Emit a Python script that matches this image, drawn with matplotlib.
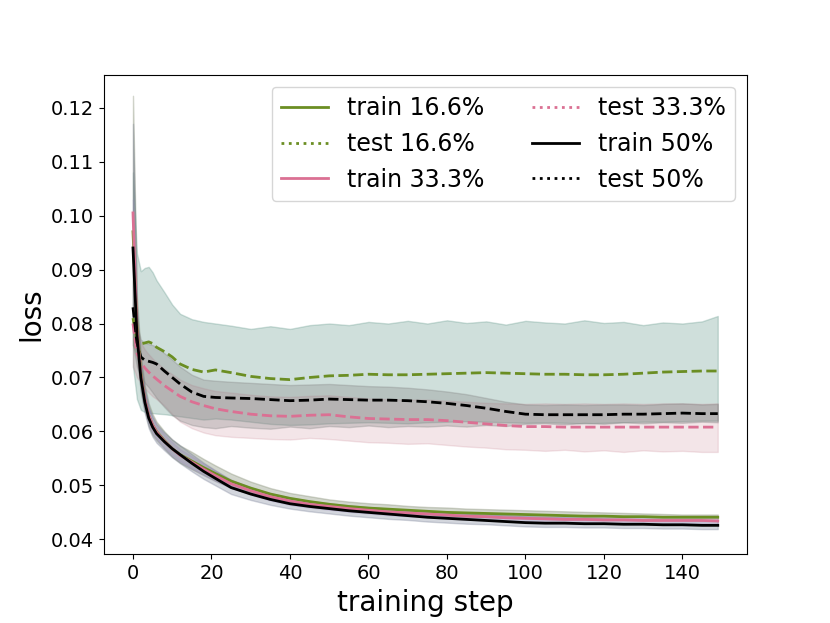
import numpy as np
import matplotlib
matplotlib.use('Agg')
import matplotlib.pyplot as plt
from matplotlib.lines import Line2D

# sampled training steps
steps = [0, 1, 2, 3, 4, 5, 6, 8, 10, 12, 15, 18, 21, 25, 30, 35, 40, 45, 50,
         55, 60, 65, 70, 75, 80, 85, 90, 95, 100, 105, 110, 115, 120, 125,
         130, 135, 140, 145, 149]

# train loss means
train166 = [0.0970, 0.0800, 0.0710, 0.0660, 0.0630, 0.0612, 0.0600, 0.0583, 0.0568, 0.0557,
            0.0545, 0.0533, 0.0522, 0.0508, 0.0495, 0.0484, 0.0476, 0.0470, 0.0465,
            0.0461, 0.0458, 0.0456, 0.0454, 0.0452, 0.0450, 0.0449, 0.0448, 0.0447,
            0.0446, 0.0445, 0.0444, 0.0443, 0.0443, 0.0442, 0.0442, 0.0441, 0.0441,
            0.0441, 0.0441]
train333 = [0.1005, 0.0790, 0.0705, 0.0660, 0.0630, 0.0612, 0.0599, 0.0582, 0.0568, 0.0556,
            0.0543, 0.0530, 0.0518, 0.0503, 0.0490, 0.0479, 0.0471, 0.0465, 0.0461,
            0.0457, 0.0454, 0.0451, 0.0449, 0.0447, 0.0445, 0.0443, 0.0442, 0.0440,
            0.0439, 0.0438, 0.0437, 0.0437, 0.0436, 0.0436, 0.0435, 0.0435, 0.0435,
            0.0435, 0.0434]
train50 = [0.0940, 0.0780, 0.0700, 0.0655, 0.0625, 0.0608, 0.0596, 0.0581, 0.0568, 0.0557,
           0.0541, 0.0526, 0.0513, 0.0496, 0.0484, 0.0474, 0.0466, 0.0461, 0.0457,
           0.0453, 0.0450, 0.0447, 0.0444, 0.0441, 0.0439, 0.0437, 0.0435, 0.0433,
           0.0431, 0.0430, 0.0430, 0.0429, 0.0429, 0.0428, 0.0428, 0.0427, 0.0427,
           0.0426, 0.0426]

# test loss means
test166 = [0.0810, 0.0770, 0.0762, 0.0764, 0.0766, 0.0763, 0.0756, 0.0748, 0.0738, 0.0725,
           0.0715, 0.0710, 0.0714, 0.0709, 0.0702, 0.0698, 0.0696, 0.0700, 0.0703,
           0.0704, 0.0706, 0.0705, 0.0705, 0.0706, 0.0707, 0.0708, 0.0709, 0.0708,
           0.0707, 0.0706, 0.0706, 0.0705, 0.0705, 0.0706, 0.0708, 0.0710, 0.0711,
           0.0712, 0.0712]
test333 = [0.0800, 0.0745, 0.0728, 0.0718, 0.0710, 0.0703, 0.0697, 0.0685, 0.0675, 0.0665,
           0.0655, 0.0648, 0.0642, 0.0637, 0.0632, 0.0629, 0.0628, 0.0630, 0.0631,
           0.0627, 0.0624, 0.0623, 0.0622, 0.0622, 0.0620, 0.0617, 0.0614, 0.0611,
           0.0609, 0.0609, 0.0608, 0.0608, 0.0608, 0.0608, 0.0608, 0.0608, 0.0608,
           0.0608, 0.0608]
test50 = [0.0830, 0.0765, 0.0738, 0.0732, 0.0730, 0.0728, 0.0725, 0.0712, 0.0700, 0.0688,
          0.0673, 0.0665, 0.0663, 0.0662, 0.0661, 0.0659, 0.0657, 0.0658, 0.0660,
          0.0659, 0.0658, 0.0658, 0.0657, 0.0655, 0.0652, 0.0648, 0.0643, 0.0637,
          0.0632, 0.0631, 0.0631, 0.0631, 0.0631, 0.0632, 0.0632, 0.0633, 0.0634,
          0.0633, 0.0633]

# spread bands (upper / lower)
train166_hi = [0.1222, 0.0850, 0.0740, 0.0685, 0.0652, 0.0632, 0.0618, 0.0600, 0.0585, 0.0574,
               0.0562, 0.0549, 0.0537, 0.0522, 0.0507, 0.0495, 0.0486, 0.0480, 0.0474,
               0.0470, 0.0467, 0.0465, 0.0462, 0.0460, 0.0459, 0.0457, 0.0456, 0.0455,
               0.0454, 0.0453, 0.0452, 0.0451, 0.0450, 0.0449, 0.0448, 0.0447, 0.0446,
               0.0446, 0.0446]
train166_lo = [0.0760, 0.0740, 0.0675, 0.0638, 0.0610, 0.0594, 0.0584, 0.0568, 0.0553, 0.0542,
               0.0530, 0.0519, 0.0508, 0.0496, 0.0484, 0.0474, 0.0467, 0.0461, 0.0457,
               0.0453, 0.0450, 0.0448, 0.0447, 0.0445, 0.0443, 0.0442, 0.0441, 0.0440,
               0.0439, 0.0438, 0.0437, 0.0437, 0.0436, 0.0436, 0.0436, 0.0436, 0.0436,
               0.0436, 0.0436]
train333_hi = [0.1030, 0.0820, 0.0725, 0.0676, 0.0644, 0.0625, 0.0611, 0.0594, 0.0580, 0.0567,
               0.0554, 0.0540, 0.0527, 0.0511, 0.0497, 0.0486, 0.0478, 0.0471, 0.0466,
               0.0462, 0.0459, 0.0456, 0.0454, 0.0452, 0.0450, 0.0448, 0.0447, 0.0445,
               0.0444, 0.0443, 0.0442, 0.0442, 0.0441, 0.0441, 0.0440, 0.0440, 0.0440,
               0.0440, 0.0440]
train333_lo = [0.0960, 0.0760, 0.0685, 0.0644, 0.0616, 0.0599, 0.0587, 0.0570, 0.0556, 0.0545,
               0.0532, 0.0520, 0.0509, 0.0495, 0.0483, 0.0472, 0.0464, 0.0459, 0.0455,
               0.0451, 0.0448, 0.0445, 0.0443, 0.0441, 0.0439, 0.0437, 0.0436, 0.0434,
               0.0433, 0.0432, 0.0431, 0.0431, 0.0430, 0.0430, 0.0429, 0.0429, 0.0429,
               0.0428, 0.0428]
train50_hi = [0.1170, 0.0830, 0.0730, 0.0678, 0.0645, 0.0627, 0.0614, 0.0598, 0.0585, 0.0574,
              0.0558, 0.0542, 0.0528, 0.0510, 0.0496, 0.0485, 0.0477, 0.0471, 0.0467,
              0.0463, 0.0460, 0.0457, 0.0454, 0.0452, 0.0450, 0.0448, 0.0446, 0.0445,
              0.0443, 0.0442, 0.0441, 0.0440, 0.0439, 0.0438, 0.0437, 0.0436, 0.0436,
              0.0435, 0.0435]
train50_lo = [0.0800, 0.0740, 0.0672, 0.0634, 0.0606, 0.0590, 0.0579, 0.0565, 0.0552, 0.0541,
              0.0526, 0.0512, 0.0500, 0.0484, 0.0473, 0.0464, 0.0457, 0.0452, 0.0448,
              0.0444, 0.0441, 0.0438, 0.0436, 0.0433, 0.0431, 0.0429, 0.0428, 0.0426,
              0.0424, 0.0423, 0.0423, 0.0422, 0.0422, 0.0421, 0.0421, 0.0420, 0.0420,
              0.0419, 0.0419]
test166_hi = [0.1080, 0.0930, 0.0897, 0.0903, 0.0905, 0.0895, 0.0880, 0.0858, 0.0835, 0.0818,
              0.0808, 0.0803, 0.0800, 0.0796, 0.0790, 0.0795, 0.0790, 0.0797, 0.0800,
              0.0797, 0.0803, 0.0800, 0.0805, 0.0800, 0.0806, 0.0801, 0.0804, 0.0798,
              0.0805, 0.0802, 0.0800, 0.0806, 0.0801, 0.0803, 0.0797, 0.0802, 0.0800,
              0.0804, 0.0814]
test166_lo = [0.0720, 0.0660, 0.0640, 0.0636, 0.0634, 0.0634, 0.0633, 0.0632, 0.0630, 0.0628,
              0.0625, 0.0622, 0.0624, 0.0622, 0.0618, 0.0614, 0.0612, 0.0613, 0.0615,
              0.0616, 0.0617, 0.0616, 0.0615, 0.0617, 0.0618, 0.0619, 0.0618, 0.0617,
              0.0616, 0.0617, 0.0616, 0.0615, 0.0616, 0.0617, 0.0618, 0.0618, 0.0619,
              0.0620, 0.0620]
test333_hi = [0.0880, 0.0790, 0.0765, 0.0752, 0.0743, 0.0735, 0.0728, 0.0716, 0.0706, 0.0696,
              0.0686, 0.0680, 0.0675, 0.0672, 0.0668, 0.0665, 0.0664, 0.0666, 0.0667,
              0.0664, 0.0661, 0.0660, 0.0659, 0.0659, 0.0657, 0.0655, 0.0653, 0.0652,
              0.0651, 0.0652, 0.0651, 0.0652, 0.0651, 0.0652, 0.0651, 0.0652, 0.0652,
              0.0651, 0.0652]
test333_lo = [0.0720, 0.0700, 0.0690, 0.0680, 0.0672, 0.0665, 0.0660, 0.0648, 0.0632, 0.0618,
              0.0606, 0.0598, 0.0593, 0.0590, 0.0588, 0.0586, 0.0585, 0.0588, 0.0586,
              0.0583, 0.0580, 0.0579, 0.0577, 0.0578, 0.0575, 0.0572, 0.0570, 0.0567,
              0.0566, 0.0564, 0.0566, 0.0563, 0.0565, 0.0562, 0.0565, 0.0563, 0.0564,
              0.0562, 0.0562]
test50_hi = [0.0920, 0.0800, 0.0770, 0.0764, 0.0762, 0.0760, 0.0757, 0.0745, 0.0733, 0.0720,
             0.0705, 0.0696, 0.0694, 0.0692, 0.0690, 0.0688, 0.0686, 0.0687, 0.0688,
             0.0686, 0.0684, 0.0683, 0.0681, 0.0678, 0.0674, 0.0669, 0.0662, 0.0655,
             0.0650, 0.0649, 0.0650, 0.0649, 0.0650, 0.0650, 0.0649, 0.0651, 0.0652,
             0.0650, 0.0651]
test50_lo = [0.0760, 0.0720, 0.0700, 0.0690, 0.0682, 0.0672, 0.0662, 0.0645, 0.0630, 0.0620,
             0.0612, 0.0608, 0.0606, 0.0610, 0.0607, 0.0605, 0.0609, 0.0606, 0.0610,
             0.0608, 0.0611, 0.0608, 0.0610, 0.0609, 0.0611, 0.0609, 0.0612, 0.0610,
             0.0614, 0.0615, 0.0613, 0.0616, 0.0614, 0.0617, 0.0615, 0.0617, 0.0616,
             0.0618, 0.0617]

green = '#6b8e23'
pink = '#db7093'

fig = plt.figure(figsize=(8.3, 6.23), dpi=100)
ax = fig.add_subplot(1, 1, 1)

# bands
ax.fill_between(steps, test166_lo, test166_hi, color='#438373', alpha=0.25, lw=1)
ax.fill_between(steps, test333_lo, test333_hi, color='#c07080', alpha=0.18, lw=1)
ax.fill_between(steps, test50_lo, test50_hi, color='grey', alpha=0.3, lw=1)
ax.fill_between(steps, train166_lo, train166_hi, color='#808a70', alpha=0.35, lw=1)
ax.fill_between(steps, train333_lo, train333_hi, color='#b090d8', alpha=0.25, lw=1)
ax.fill_between(steps, train50_lo, train50_hi, color='#707890', alpha=0.3, lw=1)

# mean curves
ax.plot(steps, test166, '--', color=green, lw=2)
ax.plot(steps, test333, '--', color=pink, lw=2)
ax.plot(steps, test50, '--', color='black', lw=2)
ax.plot(steps, train166, '-', color=green, lw=2)
ax.plot(steps, train333, '-', color=pink, lw=2)
ax.plot(steps, train50, '-', color='black', lw=2)

handles = [Line2D([], [], color=green, ls='-', lw=2, label='train 16.6%'),
           Line2D([], [], color=green, ls=':', lw=2, label='test 16.6%'),
           Line2D([], [], color=pink, ls='-', lw=2, label='train 33.3%'),
           Line2D([], [], color=pink, ls=':', lw=2, label='test 33.3%'),
           Line2D([], [], color='black', ls='-', lw=2, label='train 50%'),
           Line2D([], [], color='black', ls=':', lw=2, label='test 50%')]
ax.legend(handles=handles, loc='upper right', ncol=2, fontsize=17)

ax.set_xlim(-7.45, 156.45)
ax.set_ylim(0.0372, 0.1261)
ax.xaxis.set_ticks(np.arange(0, 141, 20))
ax.yaxis.set_ticks(np.arange(0.04, 0.1201, 0.01))
ax.yaxis.set_major_formatter(matplotlib.ticker.FormatStrFormatter('%.2f'))
ax.tick_params(labelsize=14)
ax.set_xlabel('training step', fontsize=20)
ax.set_ylabel('loss', fontsize=20)

fig.savefig('out.png', dpi=100)
